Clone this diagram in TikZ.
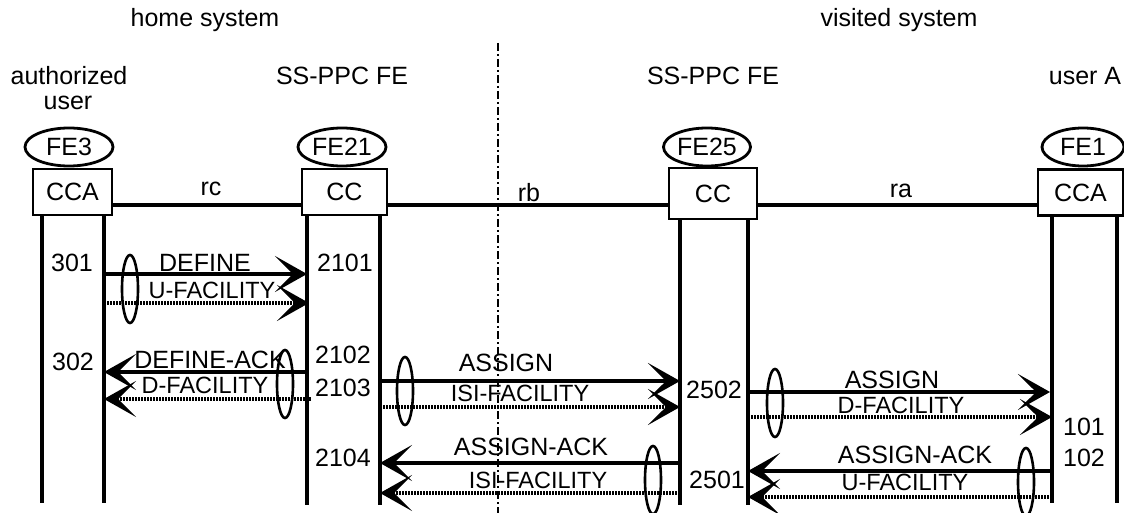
\documentclass[tikz,border=0pt]{standalone}
\usepackage{fontspec}
\setmainfont{Liberation Sans}
\usetikzlibrary{arrows.meta,shapes.geometric}
\begin{document}
\begin{tikzpicture}[x=1pt,y=-1pt,
  every node/.style={font=\fontsize{25}{28}\selectfont, inner sep=0pt},
  small/.style={font=\fontsize{23.5}{26}\selectfont},
  fe/.style={draw, ellipse, line width=2.8pt, minimum width=88pt, minimum height=38pt},
  fbox/.style={draw, rectangle, line width=2.8pt, fill=white, minimum height=46pt},
  life/.style={line width=4pt},
  link/.style={line width=4pt},
  tipA/.style={-{Stealth[length=32pt,width=36pt,inset=18pt]}},
  msg/.style={line width=3.5pt, tipA},
  info/.style={line width=3.5pt, dash pattern=on 2pt off 1pt, tipA},
  grp/.style={draw, ellipse, line width=2.6pt, minimum width=16pt, minimum height=68pt},
  border/.style={line width=2pt, dash pattern=on 8pt off 3pt on 2pt off 3pt}
]
\useasboundingbox (0,0) rectangle (1124,513);

% headers
\node[anchor=base] (hs) at (205,27) {home system};
\node[anchor=base] (vs) at (899,27) {visited system};
\node[anchor=base] (au1) at (69,85) {authorized};
\node[anchor=base] (au2) at (68,110) {user};
\node[anchor=base] (sp1) at (342,85) {SS-PPC FE};
\node[anchor=base] (sp2) at (713,85) {SS-PPC FE};
\node[anchor=base] (ua) at (1085,85) {user A};

% border line
\coordinate (bt) at (498,43);
\coordinate (bb) at (498,513);
\draw[border] (bt) -- (bb);

% lifelines
\coordinate (l1a) at (42,215);  \coordinate (l1b) at (42,503);
\coordinate (l2a) at (104,215); \coordinate (l2b) at (104,503);
\coordinate (l3a) at (307,215); \coordinate (l3b) at (307,505);
\coordinate (l4a) at (380,215); \coordinate (l4b) at (380,505);
\coordinate (l5a) at (680,219); \coordinate (l5b) at (680,505);
\coordinate (l6a) at (748,219); \coordinate (l6b) at (748,505);
\coordinate (l7a) at (1052,216); \coordinate (l7b) at (1052,503);
\coordinate (l8a) at (1117,216); \coordinate (l8b) at (1117,503);
\foreach \i in {1,...,8} {\draw[life] (l\i a) -- (l\i b);}

% boxes
\node[fbox, minimum width=79pt] (b3) at (72.5,192) {CCA};
\node[fbox, minimum width=85pt] (b21) at (344.5,192) {CC};
\node[fbox, minimum width=88pt, minimum height=51pt] (b25) at (713,193.5) {CC};
\node[fbox, minimum width=85pt] (b1) at (1080.5,192.5) {CCA};

% FE ellipses
\node[fe] (fe3) at (69,147) {FE3};
\node[fe] (fe21) at (342,147) {FE21};
\node[fe, minimum width=87pt] (fe25) at (707,147) {FE25};
\node[fe, minimum width=82pt] (fe1) at (1083,147) {FE1};

% relationships
\coordinate (yl) at (0,205);
\draw[link] (b3.east |- yl) -- (b21.west |- yl);
\draw[link] (b21.east |- yl) -- (b25.west |- yl);
\draw[link] (b25.east |- yl) -- (b1.west |- yl);
\node (rc) at (211,189) {rc};
\node (rb) at (529,193) {rb};
\node (ra) at (901,191) {ra};

% step numbers
\node (n301) at (72,263) {301};
\node (n2101) at (345,263) {2101};
\node (n302) at (73,362) {302};
\node (n2102) at (343,355) {2102};
\node (n2103) at (343,388) {2103};
\node (n2104) at (343,458) {2104};
\node (n2502) at (714,390) {2502};
\node (n2501) at (717,480) {2501};
\node (n101) at (1084,427) {101};
\node (n102) at (1084,458) {102};

% message 1: DEFINE U-FACILITY
\coordinate (m1a) at (104,274); \coordinate (m1b) at (307,274);
\coordinate (m1c) at (104,303); \coordinate (m1d) at (309,303);
\draw[msg] (m1a) -- (m1b);
\draw[info] (m1c) -- (m1d);
\node (t1) at (205,263) {DEFINE};
\node[small] (u1) at (212,290) {U-FACILITY};
\node[grp] (g1) at (130,289) {};

% message 2: DEFINE-ACK D-FACILITY
\coordinate (m2a) at (307,372); \coordinate (m2b) at (104,372);
\coordinate (m2c) at (311,399); \coordinate (m2d) at (104,399);
\draw[msg] (m2a) -- (m2b);
\draw[info] (m2c) -- (m2d);
\node (t2) at (210,360) {DEFINE-ACK};
\node[small] (u2) at (205,385) {D-FACILITY};
\node[grp] (g2) at (285,384) {};

% message 3: ASSIGN ISI-FACILITY
\coordinate (m3a) at (380,381); \coordinate (m3b) at (680,381);
\coordinate (m3c) at (380,407); \coordinate (m3d) at (680,407);
\draw[msg] (m3a) -- (m3b);
\draw[info] (m3c) -- (m3d);
\node (t3) at (506,363) {ASSIGN};
\node[small] (u3) at (520,393) {ISI-FACILITY};
\node[grp] (g3) at (405,391) {};

% message 4: ASSIGN D-FACILITY
\coordinate (m4a) at (748,392); \coordinate (m4b) at (1050,392);
\coordinate (m4c) at (748,417); \coordinate (m4d) at (1052,417);
\draw[msg] (m4a) -- (m4b);
\draw[info] (m4c) -- (m4d);
\node (t4) at (892,380) {ASSIGN};
\node[small] (u4) at (901,405) {D-FACILITY};
\node[grp] (g4) at (775,403) {};

% message 5: ASSIGN-ACK ISI-FACILITY
\coordinate (m5a) at (680,463); \coordinate (m5b) at (380,463);
\coordinate (m5c) at (680,493); \coordinate (m5d) at (380,493);
\draw[msg] (m5a) -- (m5b);
\draw[info] (m5c) -- (m5d);
\node (t5) at (531,447) {ASSIGN-ACK};
\node[small] (u5) at (538,480) {ISI-FACILITY};
\node[grp] (g5) at (653,480) {};

% message 6: ASSIGN-ACK U-FACILITY
\coordinate (m6a) at (1052,471); \coordinate (m6b) at (748,471);
\coordinate (m6c) at (1052,497); \coordinate (m6d) at (748,497);
\draw[msg] (m6a) -- (m6b);
\draw[info] (m6c) -- (m6d);
\node (t6) at (915,455) {ASSIGN-ACK};
\node[small] (u6) at (905,482) {U-FACILITY};
\node[grp] (g6) at (1026,482) {};
\end{tikzpicture}
\end{document}
